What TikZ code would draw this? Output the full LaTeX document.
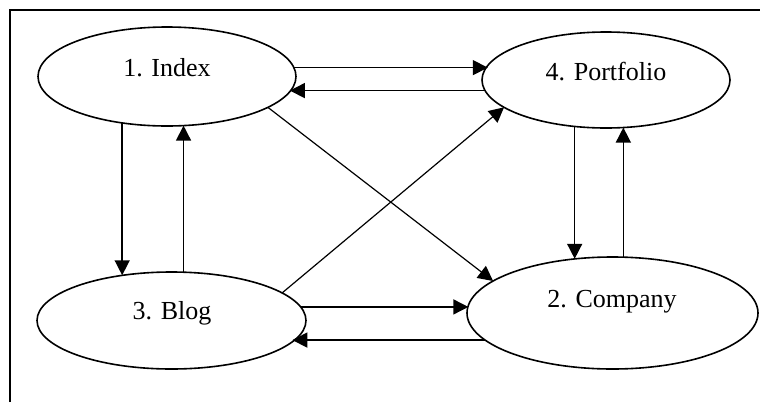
\documentclass[tikz,border=0pt]{standalone}
\usepackage{fontspec}
\setmainfont{Liberation Serif}
\usetikzlibrary{shapes.geometric,arrows.meta}
\begin{document}
\begin{tikzpicture}[x=1pt,y=-1pt,
  ell/.style={draw,ellipse,line width=1.6pt,inner sep=0pt,outer sep=0pt},
  lbl/.style={anchor=base,inner sep=0pt,font=\fontsize{26}{30}\selectfont},
  arr/.style={line width=1.5pt,-{Triangle[length=15pt,width=15pt]}},
  darr/.style={line width=1.2pt,-{Triangle[length=15pt,width=15pt]}},
  frame/.style={line width=1.5pt}]
\useasboundingbox (0,0) rectangle (760,402);
\coordinate (ftl) at (10,10);
\coordinate (ftr) at (760,10);
\coordinate (fbl) at (10,402);
\draw[frame] (fbl) -- (ftl) -- (ftr);
% ellipses
\node[ell,minimum width=258pt,minimum height=99pt] (idx) at (167,76.5) {};
\node[ell,minimum width=248pt,minimum height=96pt] (port) at (606,80) {};
\node[ell,minimum width=269pt,minimum height=97pt] (blog) at (171.5,320.5) {};
\node[ell,minimum width=291pt,minimum height=112pt] (comp) at (612.5,313) {};
% labels
\node[lbl] (tidx) at (167,76) {1. Index};
\node[lbl] (tport) at (606,80) {4. Portfolio};
\node[lbl] (tblog) at (172,319) {3. Blog};
\node[lbl] (tcomp) at (612,307.5) {2. Company};
% connectors
\draw[arr] (idx.4.8) -- (port.173.3 |- idx.4.8);
\draw[arr] (port.185.2) -- (idx.353.3 |- port.185.2);
\draw[darr] (idx.-17.8) -- (comp.165.6);
\draw[darr] (blog.14.8) -- (port.195.3);
\draw[arr] (idx.226.6) -- (idx.226.6 |- blog.137);
\draw[arr] (blog.76.6) -- (blog.76.6 |- idx.288);
\draw[arr] (port.236.3) -- (port.236.3 |- comp.124.7);
\draw[arr] (comp.79.4) -- (comp.79.4 |- port.289.7);
\draw[arr] (blog.6) -- (comp.177.6 |- blog.6);
\draw[arr] (comp.192.5) -- (blog.350.5 |- comp.192.5);
\end{tikzpicture}
\end{document}
